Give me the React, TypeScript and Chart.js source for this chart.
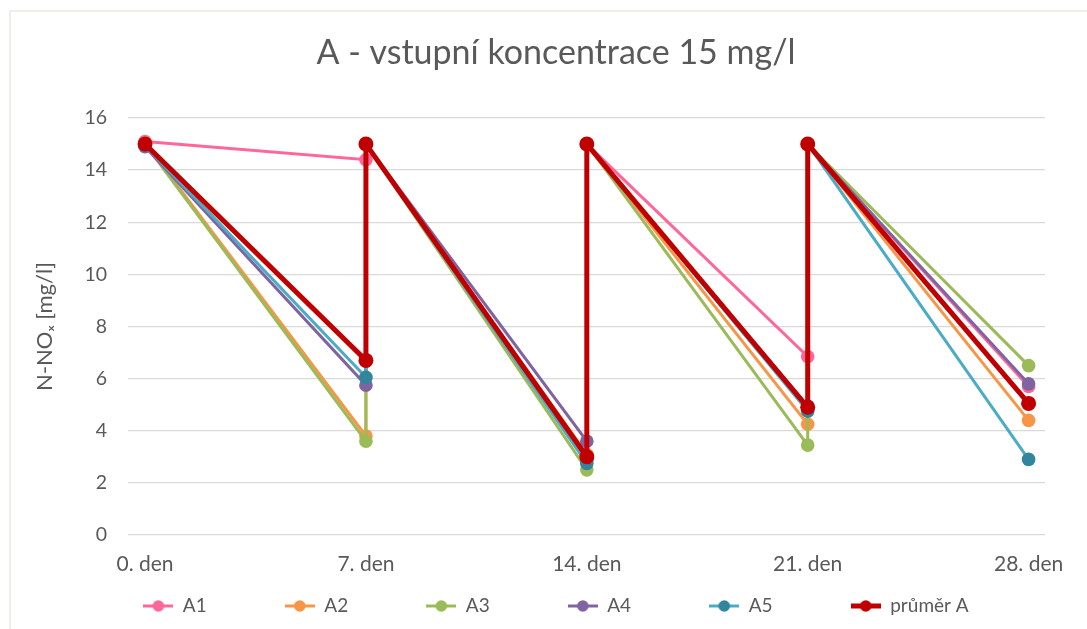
import React, { useEffect, useRef } from "react";
import { Chart, registerables } from "chart.js";

Chart.register(...registerables);

const days = [0, 7, 7, 14, 14, 21, 21, 28];
const tickDays = [0, 7, 14, 21, 28];
const tickLabels = ["0. den", "7. den", "14. den", "21. den", "28. den"];
const yTicks = [0, 2, 4, 6, 8, 10, 12, 14, 16];

const seriesNames = ["A1", "A2", "A3", "A4", "A5", "průměr A"];
const a1 = [15.1, 14.4, 15, 2.9, 15, 6.85, 15, 5.7];
const a2 = [15.05, 3.8, 15, 3.1, 15, 4.25, 15, 4.4];
const a3 = [15.0, 3.6, 15, 2.5, 15, 3.45, 15, 6.5];
const a4 = [14.9, 5.75, 15, 3.6, 15, 4.95, 15, 5.8];
const a5 = [14.95, 6.05, 15, 2.75, 15, 4.75, 15, 2.9];
const avgA = [15, 6.7, 15, 3.0, 15, 4.9, 15, 5.05];
const seriesValues = [a1, a2, a3, a4, a5, avgA];

const lineColors = ["#FF6699", "#F79646", "#9BBB59", "#8064A2", "#4BACC6", "#C00000"];
const markerColors = ["#FF6699", "#F79646", "#9BBB59", "#8064A2", "#31859C", "#C00000"];
const lineWidths = [3, 3, 3, 3, 3, 5];
const markerRadii = [6.8, 6.8, 6.8, 6.8, 6.8, 7.5];

const FONT = "Lato, 'Open Sans', sans-serif";
const TEXT = "#595959";
const LEGEND_SLOT = 93.5;

function legendImage(i: number): HTMLCanvasElement {
  const c = document.createElement("canvas");
  c.width = 30;
  c.height = 14;
  const g = c.getContext("2d")!;
  g.strokeStyle = lineColors[i];
  g.lineWidth = lineWidths[i];
  g.beginPath();
  g.moveTo(0, 7);
  g.lineTo(30, 7);
  g.stroke();
  g.fillStyle = markerColors[i];
  g.beginPath();
  g.arc(15, 7, 5.8, 0, Math.PI * 2);
  g.fill();
  return c;
}

export default function App() {
  const ref = useRef<HTMLCanvasElement | null>(null);

  useEffect(() => {
    if (!ref.current) return;
    const images = seriesNames.map((_, i) => legendImage(i));
    const datasets = seriesNames.map((name, i) => ({
      label: name,
      data: days.map((d, k) => ({ x: d, y: seriesValues[i][k] })),
      borderColor: lineColors[i],
      backgroundColor: markerColors[i],
      borderWidth: lineWidths[i],
      pointRadius: markerRadii[i],
      pointBorderWidth: 0,
      pointBackgroundColor: markerColors[i],
      pointBorderColor: markerColors[i],
      tension: 0,
      order: i === 5 ? 0 : 6 - i,
      clip: false as any,
      yAxisID: "y",
    }));

    const chart = new Chart(ref.current, {
      type: "line",
      data: { datasets },
      options: {
        responsive: false,
        animation: false,
        layout: { padding: { left: 25, right: 0, top: 0, bottom: 3.5 } },
        plugins: {
          tooltip: { enabled: false },
          title: {
            display: true,
            text: "A - vstupní koncentrace 15 mg/l",
            color: TEXT,
            font: { family: FONT, size: 34, weight: "normal" },
            padding: { top: 33, bottom: 44.2 },
          },
          legend: {
            position: "bottom",
            labels: {
              usePointStyle: true,
              pointStyleWidth: 30,
              padding: 10,
              color: TEXT,
              font: { family: FONT, size: 19 },
              sort: (a: any, b: any) => a.datasetIndex - b.datasetIndex,
              generateLabels: (ch: any) => {
                const items = Chart.defaults.plugins.legend.labels.generateLabels(ch);
                const ctx = ch.ctx;
                ctx.save();
                ctx.font = `normal 19px ${FONT}`;
                const out = items.map((it: any) => {
                  let text = it.text;
                  if (it.datasetIndex < seriesNames.length - 1) {
                    while (ctx.measureText(text + " ").width <= LEGEND_SLOT) text += " ";
                  }
                  return { ...it, text, pointStyle: images[it.datasetIndex], fontColor: TEXT };
                });
                ctx.restore();
                return out;
              },
            },
          },
        },
        scales: {
          x: {
            type: "linear",
            min: -0.54,
            max: 28.52,
            afterBuildTicks: (axis: any) => {
              axis.ticks = tickDays.map((v) => ({ value: v }));
            },
            afterFit: (s: any) => {
              s.height = 51.5;
            },
            grid: { display: false, drawTicks: false },
            border: { display: false },
            ticks: {
              autoSkip: false,
              maxRotation: 0,
              padding: 17,
              color: TEXT,
              font: { family: FONT, size: 21 },
              callback: (v: any) => {
                const idx = tickDays.indexOf(Number(v));
                return idx >= 0 ? tickLabels[idx] : "";
              },
            },
          },
          y: {
            type: "linear",
            position: "left",
            min: 0,
            max: 16,
            afterBuildTicks: (axis: any) => {
              axis.ticks = yTicks.map((v) => ({ value: v }));
            },
            afterFit: (s: any) => {
              s.width = 103;
            },
            grid: { color: "#D9D9D9", lineWidth: 1.3, drawTicks: false },
            border: { display: false },
            ticks: {
              padding: 21,
              color: TEXT,
              font: { family: FONT, size: 19.5 },
            },
            title: {
              display: true,
              text: "N-NOₓ [mg/l]",
              color: TEXT,
              font: { family: FONT, size: 22 },
              padding: { top: 6.8, bottom: 0 },
            },
          },
          yR: {
            type: "linear",
            position: "right",
            display: true,
            afterFit: (s: any) => {
              s.width = 42;
            },
            grid: { display: false, drawTicks: false },
            border: { display: false },
            ticks: { display: false },
          },
        },
      },
    });
    return () => chart.destroy();
  }, []);

  return (
    <div style={{ position: "fixed", left: 0, top: 0, width: 1087, height: 629, overflow: "hidden", background: "#fff" }}>
      <div
        style={{
          position: "absolute",
          left: 9,
          top: 10,
          width: 1090,
          height: 640,
          borderLeft: "2px solid #EFEFE9",
          borderTop: "2px solid #EFEFE9",
        }}
      />
      <canvas ref={ref} width={1087} height={629} style={{ position: "absolute", left: 0, top: 0 }} />
    </div>
  );
}
